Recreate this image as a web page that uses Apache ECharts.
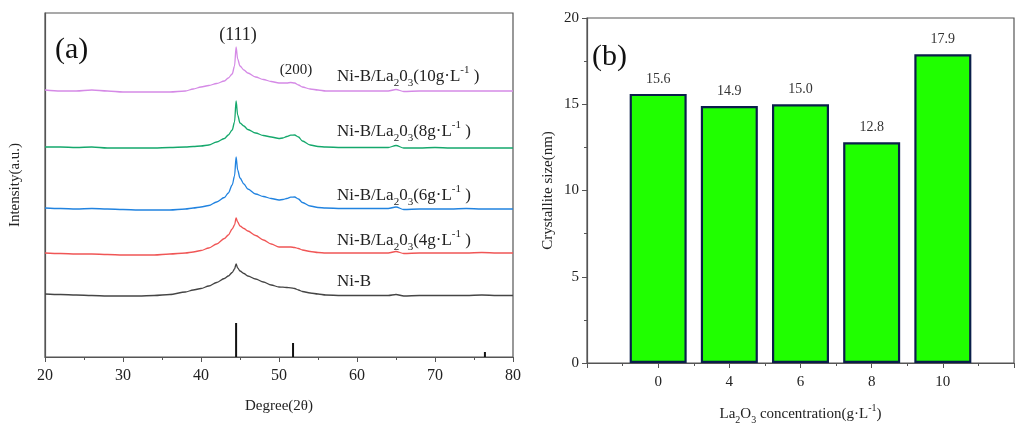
<!DOCTYPE html>
<html>
<head>
<meta charset="utf-8">
<script src="https://cdn.jsdelivr.net/npm/echarts@6/dist/echarts.min.js"></script>
<style>
  html, body { margin: 0; padding: 0; background: #fff; }
  #chart { width: 1025px; height: 434px; }
</style>
</head>
<body>
<div id="chart"></div>
<script>
// (a) XRD 图谱 — 2θ 采样点和各样品强度（任意单位，已做竖向偏移）
const twoTheta = [20, 22, 24, 26, 28, 30, 32, 34, 36, 38, 39, 40, 41, 42, 43, 43.5, 44, 44.3, 44.5, 44.7, 45, 45.5, 46, 47, 48, 49, 50, 50.5, 51, 51.5, 52, 52.5, 53, 54, 55, 56, 58, 60, 62, 64, 65, 66, 68, 70, 72, 74, 76, 78, 80];
const niB = [63, 62.5, 62, 61.5, 61, 61, 61, 61.5, 62.5, 65, 67, 68.5, 71, 74.5, 78.5, 81, 84.5, 88, 93, 89, 86, 83.5, 81, 78, 75, 72, 70, 69.8, 69.5, 69.2, 68.5, 67, 65.5, 64, 63, 62, 61.5, 61.5, 61.5, 61.5, 62.5, 61, 61.5, 61.5, 61.5, 61.5, 62, 61.5, 61.5];
const la4 = [104, 103.5, 103, 103, 102.5, 102, 102, 102, 103, 104, 105, 106.5, 109, 113, 118.5, 122, 128, 132, 139, 135, 131, 128.5, 126, 121.5, 117, 113, 110, 110, 110, 110, 109.5, 108.5, 107, 105.5, 104.5, 104, 104, 104, 104, 104, 105.5, 103.5, 104, 104, 104, 104, 104.5, 104, 104];
const la6 = [149, 148.5, 148, 148.5, 148, 147.5, 147, 147, 147, 148, 149, 150, 151.5, 155, 159.5, 164, 172, 181, 200, 187, 179, 173, 168, 163, 160.5, 158.5, 157, 157.5, 158.5, 159.8, 160, 158, 154.5, 151, 149.5, 149, 148.5, 148.5, 148.5, 148.5, 150, 147.5, 148, 148, 148, 148.5, 148, 148, 148];
const la8 = [210, 210, 209.5, 210, 209, 209, 209, 209, 209.5, 210, 210.5, 211, 212, 215, 218.5, 222, 227, 235, 256, 242, 234, 231, 227.5, 224, 221.5, 220, 218.5, 219, 220.5, 221.8, 222, 220, 216, 212, 210.5, 210, 209.5, 209.5, 209.5, 209.5, 211.5, 209, 209, 209.5, 209, 209, 209, 209, 209];
const la10 = [267, 266, 266, 267, 266, 265, 265, 265, 265, 266, 268, 270, 271.5, 273.5, 276, 279, 283, 291, 310, 298, 291, 287, 284, 280, 277.5, 275.5, 274, 274, 274, 274.5, 274, 272, 270, 268, 267, 266, 266, 266, 266, 266, 267.5, 265.5, 266, 266, 266, 266, 266, 266, 266];
// 标准卡片衍射线
const refPos = [44.5, 51.8, 76.4];
const refInt = [34, 14, 5];

// (b) 晶粒尺寸
const concentrations = ['0', '4', '6', '8', '10'];
const crystalSize = [15.6, 14.9, 15.0, 12.8, 17.9];

const serif = "'Liberation Serif', 'Times New Roman', serif";
const txt = '#222';
const axisColor = '#555';

const pair = (arr) => twoTheta.map((t, i) => [t, arr[i]]);
const xrdLine = (name, arr, color) => ({
  name,
  type: 'line',
  xAxisIndex: 0,
  yAxisIndex: 0,
  data: pair(arr),
  showSymbol: false,
  smooth: 0.3,
  smoothMonotone: 'x',
  lineStyle: { color, width: 1.3 },
  z: 3,
});

const richSubSup = (base) => ({
  sub: { fontSize: Math.round(base * 0.65), verticalAlign: 'bottom', fontFamily: serif, color: txt },
  sup: { fontSize: Math.round(base * 0.65), verticalAlign: 'top', fontFamily: serif, color: txt },
});

const sampleLabel = (text, x, y) => ({
  type: 'text',
  x, y,
  style: {
    text,
    fontSize: 17,
    fontFamily: serif,
    fill: txt,
    lineHeight: 24,
    verticalAlign: 'middle',
    align: 'left',
    rich: richSubSup(17),
  },
});

const chart = echarts.init(document.getElementById('chart'));

const option = {
  backgroundColor: '#fff',
  animation: false,
  grid: [
    { left: 45, top: 13, width: 468, height: 344, show: true, borderColor: axisColor, borderWidth: 1.2 },
    { left: 587, top: 18, width: 427, height: 345, show: true, borderColor: axisColor, borderWidth: 1.2 },
  ],
  xAxis: [
    {
      gridIndex: 0,
      type: 'value',
      min: 20,
      max: 80,
      interval: 10,
      axisLine: { lineStyle: { color: axisColor, width: 1.2 } },
      axisTick: { length: 5, lineStyle: { color: axisColor } },
      minorTick: { show: true, splitNumber: 2, length: 3, lineStyle: { color: axisColor } },
      splitLine: { show: false },
      axisLabel: { fontSize: 16, color: txt, fontFamily: serif, margin: 11 },
      name: 'Degree(2θ)',
      nameLocation: 'middle',
      nameGap: 42,
      nameTextStyle: { fontSize: 15, color: txt, fontFamily: serif },
    },
    {
      gridIndex: 1,
      type: 'value',
      min: 0,
      max: 6,
      interval: 1,
      axisLine: { lineStyle: { color: axisColor, width: 1.2 } },
      axisTick: { length: 5, lineStyle: { color: axisColor } },
      minorTick: { show: true, splitNumber: 2, length: 3, lineStyle: { color: axisColor } },
      splitLine: { show: false },
      axisLabel: {
        fontSize: 15, color: txt, fontFamily: serif, margin: 12,
        formatter: (v) => concentrations[v - 1] || '',
      },
      name: 'La{sub|2}O{sub|3} concentration(g·L{sup|-1})',
      nameLocation: 'middle',
      nameGap: 40,
      nameTextStyle: { fontSize: 15, color: txt, fontFamily: serif, lineHeight: 22, rich: richSubSup(15) },
    },
  ],
  yAxis: [
    {
      gridIndex: 0,
      type: 'value',
      min: 0,
      max: 344,
      axisLine: { show: true, lineStyle: { color: axisColor, width: 1.2 } },
      axisTick: { show: false },
      axisLabel: { show: false },
      splitLine: { show: false },
      name: 'Intensity(a.u.)',
      nameLocation: 'middle',
      nameGap: 22,
      nameTextStyle: { fontSize: 15, color: txt, fontFamily: serif },
    },
    {
      gridIndex: 1,
      type: 'value',
      min: 0,
      max: 20,
      interval: 5,
      axisLine: { show: true, lineStyle: { color: axisColor, width: 1.2 } },
      axisTick: { length: 5, lineStyle: { color: axisColor } },
      minorTick: { show: true, splitNumber: 2, length: 3, lineStyle: { color: axisColor } },
      splitLine: { show: false },
      axisLabel: { fontSize: 15, color: txt, fontFamily: serif, margin: 8 },
      name: 'Crystallite size(nm)',
      nameLocation: 'middle',
      nameGap: 31,
      nameTextStyle: { fontSize: 15, color: txt, fontFamily: serif },
    },
  ],
  series: [
    xrdLine('Ni-B', niB, '#454545'),
    xrdLine('4g', la4, '#f05656'),
    xrdLine('6g', la6, '#2183e0'),
    xrdLine('8g', la8, '#15a86c'),
    xrdLine('10g', la10, '#d58ae6'),
    {
      name: 'ref',
      type: 'bar',
      xAxisIndex: 0,
      yAxisIndex: 0,
      barWidth: 2,
      data: refPos.map((x, i) => [x, refInt[i]]),
      itemStyle: { color: '#111' },
    },
    {
      name: 'size',
      type: 'bar',
      xAxisIndex: 1,
      yAxisIndex: 1,
      barWidth: 57,
      data: crystalSize.map((v, i) => [i + 1, v]),
      itemStyle: { color: '#20ff00', borderColor: '#0a1e4a', borderWidth: 2.2 },
      label: {
        show: true,
        position: 'top',
        distance: 8,
        fontSize: 14,
        color: '#333',
        fontFamily: serif,
        formatter: (p) => p.value[1].toFixed(1),
      },
    },
  ],
  graphic: [
    { type: 'text', x: 55, y: 50, style: { text: '(a)', fontSize: 30, fontFamily: serif, fill: '#111', verticalAlign: 'middle' } },
    { type: 'text', x: 592, y: 57, style: { text: '(b)', fontSize: 30, fontFamily: serif, fill: '#111', verticalAlign: 'middle' } },
    { type: 'text', x: 238, y: 35, style: { text: '(111)', fontSize: 18, fontFamily: serif, fill: txt, align: 'center', verticalAlign: 'middle' } },
    { type: 'text', x: 296, y: 70, style: { text: '(200)', fontSize: 15, fontFamily: serif, fill: txt, align: 'center', verticalAlign: 'middle' } },
    sampleLabel('Ni-B/La{sub|2}0{sub|3}(10g·L{sup|-1} )', 337, 77),
    sampleLabel('Ni-B/La{sub|2}0{sub|3}(8g·L{sup|-1} )', 337, 132),
    sampleLabel('Ni-B/La{sub|2}0{sub|3}(6g·L{sup|-1} )', 337, 196),
    sampleLabel('Ni-B/La{sub|2}0{sub|3}(4g·L{sup|-1} )', 337, 241),
    sampleLabel('Ni-B', 337, 282),
  ],
};

chart.setOption(option);
</script>
</body>
</html>
